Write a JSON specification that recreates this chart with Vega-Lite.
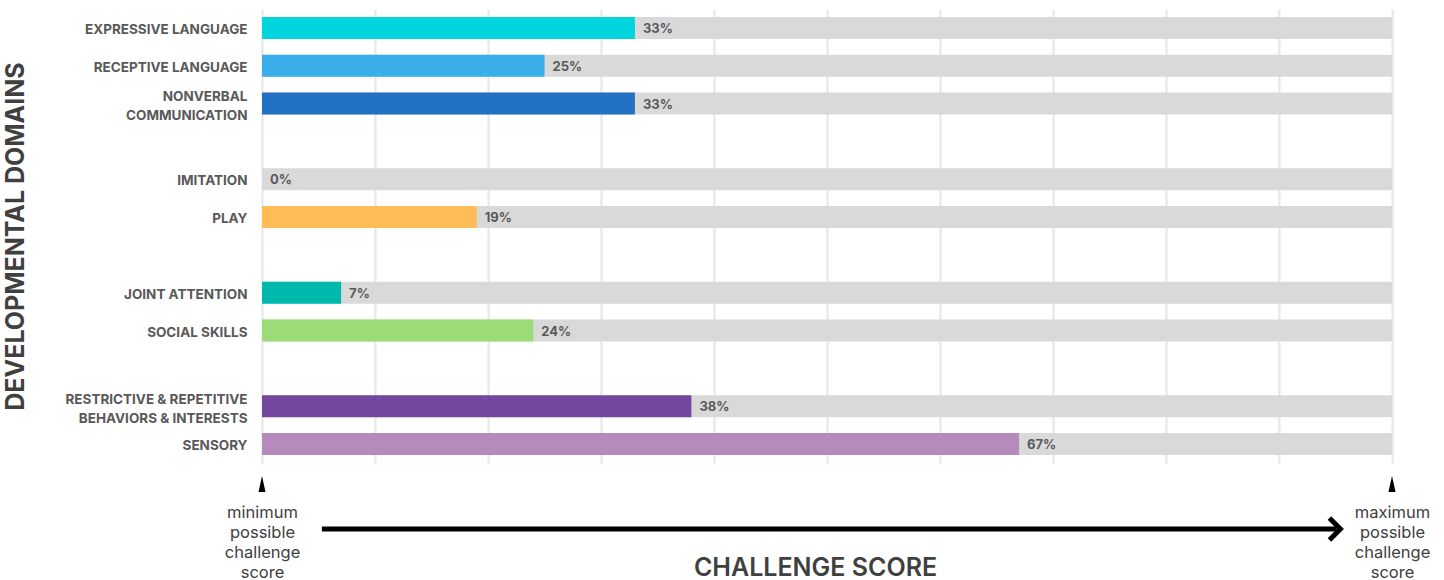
{
  "$schema": "https://vega.github.io/schema/vega-lite/v6.json",
  "width": 1130,
  "height": 454,
  "autosize": "none",
  "padding": {"left": 262, "top": 9, "right": 52, "bottom": 117},
  "background": "white",
  "config": {"view": {"stroke": null}, "font": "Inter"},
  "data": {
    "values": [
      {"domain": "EXPRESSIVE LANGUAGE", "score": 0.33},
      {"domain": "RECEPTIVE LANGUAGE", "score": 0.25},
      {"domain": "NONVERBAL|COMMUNICATION", "score": 0.33},
      {"domain": "IMITATION", "score": 0},
      {"domain": "PLAY", "score": 0.19},
      {"domain": "JOINT ATTENTION", "score": 0.07},
      {"domain": "SOCIAL SKILLS", "score": 0.24},
      {"domain": "RESTRICTIVE & REPETITIVE|BEHAVIORS & INTERESTS", "score": 0.38},
      {"domain": "SENSORY", "score": 0.67}
    ]
  },
  "layer": [
    {
      "mark": {"type": "bar", "color": "#d9d9d9"},
      "encoding": {
        "y": {
          "field": "domain",
          "type": "nominal",
          "sort": null,
          "scale": {
            "domain": ["EXPRESSIVE LANGUAGE", "RECEPTIVE LANGUAGE", "NONVERBAL|COMMUNICATION", "gap1", "IMITATION", "PLAY", "gap2", "JOINT ATTENTION", "SOCIAL SKILLS", "gap3", "RESTRICTIVE & REPETITIVE|BEHAVIORS & INTERESTS", "SENSORY"],
            "paddingInner": 0.42,
            "paddingOuter": 0.21
          },
          "axis": {
            "domain": false,
            "ticks": false,
            "grid": false,
            "labelPadding": 15,
            "labelFont": "Inter",
            "labelFontSize": 13.5,
            "labelFontWeight": "bold",
            "labelColor": "#595959",
            "labelLineHeight": 19,
            "labelLimit": 300,
            "labelBaseline": "middle",
            "labelExpr": "indexof(datum.value, 'gap') == 0 ? '' : split(datum.value, '|')",
            "labelOffset": {"condition": {"test": "indexof(datum.value, '|') >= 0", "value": -6.5}, "value": 2},
            "title": "DEVELOPMENTAL DOMAINS",
            "titleFont": "Inter",
            "titleFontSize": 25,
            "titleFontWeight": "bold",
            "titleColor": "#404040",
            "titleAngle": 270,
            "titleX": -247,
            "titleY": 227,
            "titleAlign": "center",
            "titleBaseline": "middle"
          }
        },
        "x": {
          "datum": 1,
          "type": "quantitative",
          "scale": {"domain": [0, 1], "nice": false, "zero": true},
          "axis": {
            "orient": "bottom",
            "values": [0, 0.1, 0.2, 0.3, 0.4, 0.5, 0.6, 0.7, 0.8, 0.9, 1],
            "grid": true,
            "gridColor": "#e6e6e6",
            "gridWidth": 2,
            "domain": false,
            "ticks": false,
            "labelFlush": false,
            "labelOverlap": false,
            "labelBound": false,
            "labelExpr": "datum.value == 0 ? ['minimum', 'possible', 'challenge', 'score'] : datum.value == 1 ? ['maximum', 'possible', 'challenge', 'score'] : ''",
            "labelFont": "Inter",
            "labelFontSize": 16.5,
            "labelLineHeight": 20,
            "labelPadding": 41,
            "labelColor": "#404040",
            "title": "CHALLENGE SCORE",
            "titleFont": "Inter",
            "titleFontSize": 25,
            "titleFontWeight": 600,
            "titleColor": "#404040",
            "titleX": 553,
            "titleAlign": "center",
            "titleY": 112,
            "titleBaseline": "alphabetic"
          }
        }
      }
    },
    {
      "mark": {"type": "bar"},
      "encoding": {
        "y": {"field": "domain", "type": "nominal", "sort": null},
        "x": {"field": "score", "type": "quantitative"},
        "color": {
          "field": "domain",
          "type": "nominal",
          "legend": null,
          "scale": {
            "domain": ["EXPRESSIVE LANGUAGE", "RECEPTIVE LANGUAGE", "NONVERBAL|COMMUNICATION", "IMITATION", "PLAY", "JOINT ATTENTION", "SOCIAL SKILLS", "RESTRICTIVE & REPETITIVE|BEHAVIORS & INTERESTS", "SENSORY"],
            "range": ["#00d4df", "#3aaeea", "#2371c5", "#999999", "#ffbc57", "#00b9ad", "#9bdc77", "#73489e", "#b48bba"]
          }
        }
      }
    },
    {
      "mark": {"type": "text", "align": "left", "baseline": "middle", "dx": 8, "dy": 1, "font": "Inter", "fontSize": 13, "fontWeight": "bold", "color": "#595959"},
      "encoding": {
        "y": {"field": "domain", "type": "nominal", "sort": null},
        "x": {"field": "score", "type": "quantitative"},
        "text": {"field": "score", "type": "quantitative", "format": ".0%"}
      }
    },
    {
      "data": {"values": [{"end": "minimum", "score": 0}, {"end": "maximum", "score": 1}]},
      "mark": {"type": "point", "shape": "M-0.44,1L0,-1L0.44,1Z", "size": 256, "filled": true, "color": "black", "opacity": 1},
      "encoding": {
        "x": {"field": "score", "type": "quantitative"},
        "y": {"value": 475}
      }
    },
    {
      "data": {"values": [{"note": "arrow"}]},
      "mark": {"type": "rule", "color": "black", "strokeWidth": 5},
      "encoding": {
        "x": {"datum": 0.053, "type": "quantitative"},
        "x2": {"datum": 0.951},
        "y": {"value": 520}
      }
    },
    {
      "data": {"values": [{"note": "arrowhead"}]},
      "mark": {"type": "point", "shape": "M-0.5,-1L0.5,0L-0.5,1", "size": 484, "filled": false, "stroke": "black", "strokeWidth": 5, "opacity": 1, "strokeJoin": "miter"},
      "encoding": {
        "x": {"datum": 0.9495, "type": "quantitative"},
        "y": {"value": 520}
      }
    }
  ]
}
